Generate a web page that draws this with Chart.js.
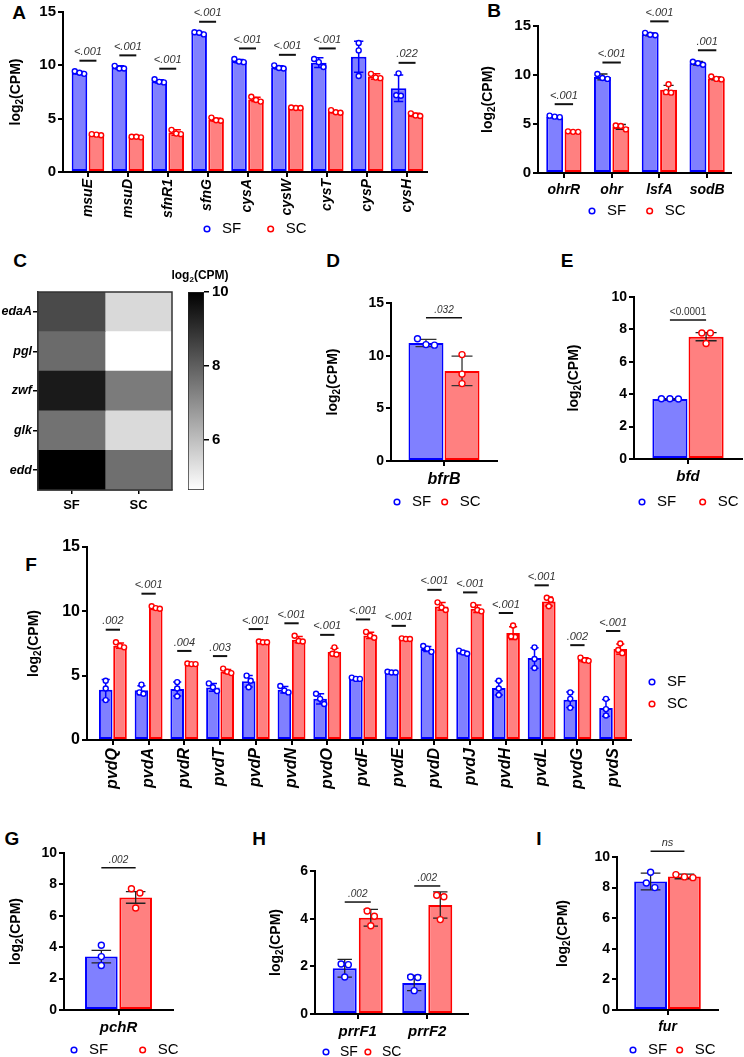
<!DOCTYPE html>
<html>
<head>
<meta charset="utf-8">
<script src="https://cdn.jsdelivr.net/npm/chart.js@4.4.1/dist/chart.umd.min.js"></script>
<style>
  html, body { margin: 0; padding: 0; background: #fff; }
  #fig { position: relative; width: 744px; height: 1057px; overflow: hidden; font-family: 'Liberation Sans', Arial, sans-serif; }
  #fig canvas { position: absolute; }
  .pl { position: absolute; font-weight: bold; font-size: 19px; transform: translate(-50%, -50%); line-height: 1; }
</style>
</head>
<body>
<div id="fig">
  <div class="pl" style="left:19px;top:12px">A</div>
  <div class="pl" style="left:494px;top:10px">B</div>
  <div class="pl" style="left:20px;top:260px">C</div>
  <div class="pl" style="left:333px;top:260px">D</div>
  <div class="pl" style="left:567px;top:260px">E</div>
  <div class="pl" style="left:31px;top:564px">F</div>
  <div class="pl" style="left:12px;top:838px">G</div>
  <div class="pl" style="left:259px;top:838px">H</div>
  <div class="pl" style="left:539px;top:838px">I</div>
</div>
<script>
// ---- A: sulfur genes ----
const aGenes = ['msuE', 'msuD', 'sfnR1', 'sfnG', 'cysA', 'cysW', 'cysT', 'cysP', 'cysH'];
const aSF = [9.3, 9.8, 8.5, 13.0, 10.4, 9.8, 10.25, 10.8, 7.85];
const aSC = [3.5, 3.3, 3.7, 4.9, 6.8, 6.0, 5.65, 8.95, 5.35];
const aSFsd = [0.12, 0.15, 0.15, 0.1, 0.15, 0.15, 0.45, 1.45, 1.25];
const aSCsd = [0.05, 0.05, 0.25, 0.15, 0.2, 0.05, 0.1, 0.25, 0.15];
const aSFpts = [[9.2, 9.45, 9.3], [9.7, 9.95, 9.7], [8.4, 8.7, 8.45], [13.1, 12.9, 13.05], [10.3, 10.6, 10.35],
  [9.7, 10.0, 9.75], [10.6, 9.85, 10.3], [12.1, 11.4, 9.0], [9.25, 7.2, 7.15]];
const aSCpts = [[3.45, 3.5, 3.55], [3.25, 3.3, 3.3], [3.55, 3.95, 3.6], [4.8, 5.1, 4.85], [6.6, 7.05, 6.75],
  [6.0, 6.05, 6.0], [5.6, 5.8, 5.55], [9.2, 8.8, 8.85], [5.5, 5.3, 5.25]];
const aP = ['<.001', '<.001', '<.001', '<.001', '<.001', '<.001', '<.001', '', '.022'];

// ---- B: oxidative stress ----
const bGenes = ['ohrR', 'ohr', 'lsfA', 'sodB'];
const bSF = [5.75, 9.8, 14.15, 11.2];
const bSC = [4.2, 4.7, 8.5, 9.65];
const bSFsd = [0.08, 0.3, 0.15, 0.2];
const bSCsd = [0.05, 0.25, 0.45, 0.15];
const bSFpts = [[5.75, 5.85, 5.7], [10.1, 9.7, 9.6], [14.3, 14.05, 14.1], [11.35, 11.05, 11.2]];
const bSCpts = [[4.2, 4.25, 4.2], [4.85, 4.45, 4.8], [9.05, 8.25, 8.2], [9.85, 9.6, 9.55]];
const bP = ['<.001', '<.001', '<.001', '.001'];

// ---- C: heat map ----
const hmGenes = ['edaA', 'pgl', 'zwf', 'glk', 'edd'];
const hmCols = ['SF', 'SC'];
const hmSF = [8.45, 7.75, 9.45, 7.6, 10.0];
const hmSC = [5.45, 4.65, 7.42, 5.43, 7.67];
const cbTicks = [6, 8, 10];

// ---- D, E ----
const dGene = ['bfrB'];
const dSF = [11.2], dSC = [8.55], dSFsd = [0.35], dSCsd = [1.4];
const dSFpts = [[11.6, 11.0, 11.05]], dSCpts = [[10.1, 8.25, 7.35]];
const dP = ['.032'];
const eGene = ['bfd'];
const eSF = [3.7], eSC = [7.55], eSFsd = [0.03], eSCsd = [0.25];
const eSFpts = [[3.72, 3.7, 3.72]], eSCpts = [[7.78, 7.78, 7.13]];
const eP = ['<0.0001'];

// ---- F: pvd genes ----
const fGenes = ['pvdQ', 'pvdA', 'pvdR', 'pvdT', 'pvdP', 'pvdN', 'pvdO', 'pvdF', 'pvdE', 'pvdD', 'pvdJ', 'pvdH', 'pvdL', 'pvdG', 'pvdS'];
const fSF = [3.9, 3.86, 3.96, 4.09, 4.56, 3.9, 3.2, 4.77, 5.25, 7.07, 6.8, 4.04, 6.37, 3.13, 2.49];
const fSC = [7.33, 10.25, 5.9, 5.33, 7.6, 7.8, 6.84, 8.13, 7.85, 10.38, 10.2, 8.31, 10.77, 6.24, 7.07];
const fSFsd = [0.8, 0.35, 0.55, 0.3, 0.45, 0.25, 0.4, 0.05, 0.05, 0.2, 0.1, 0.55, 0.8, 0.6, 0.65];
const fSCsd = [0.2, 0.1, 0.05, 0.15, 0.05, 0.25, 0.3, 0.25, 0.05, 0.3, 0.3, 0.5, 0.35, 0.15, 0.4];
const fSFpts = [[4.6, 4.0, 3.1], [4.3, 3.7, 3.6], [4.5, 4.0, 3.4], [4.4, 4.1, 3.8], [5.0, 4.6, 4.1],
  [4.2, 3.85, 3.7], [3.6, 3.2, 2.8], [4.85, 4.75, 4.75], [5.3, 5.25, 5.25], [7.3, 7.1, 6.85],
  [6.95, 6.8, 6.7], [4.6, 4.0, 3.5], [7.2, 6.3, 5.6], [3.7, 3.2, 2.5], [3.2, 2.4, 1.9]];
const fSCpts = [[7.6, 7.3, 7.2], [10.4, 10.25, 10.2], [5.95, 5.9, 5.9], [5.55, 5.3, 5.2], [7.65, 7.6, 7.6],
  [8.1, 7.7, 7.65], [7.2, 6.7, 6.65], [8.4, 8.1, 7.95], [7.9, 7.85, 7.85], [10.7, 10.3, 10.1],
  [10.5, 10.1, 10.0], [8.9, 8.0, 8.05], [11.05, 10.9, 10.4], [6.4, 6.2, 6.15], [7.5, 7.0, 6.75]];
const fP = ['.002', '<.001', '.004', '.003', '<.001', '<.001', '<.001', '<.001', '<.001', '<.001', '<.001', '<.001', '<.001', '.002', '<.001'];

// ---- G, H, I ----
const gGene = ['pchR'];
const gSF = [3.4], gSC = [7.17], gSFsd = [0.4], gSCsd = [0.37];
const gSFpts = [[4.12, 3.4, 2.83]], gSCpts = [[7.72, 7.45, 6.5]];
const gP = ['.002'];
const hGenes = ['prrF1', 'prrF2'];
const hSF = [1.92, 1.3], hSC = [4.04, 4.57], hSFsd = [0.37, 0.32], hSCsd = [0.35, 0.55];
const hSFpts = [[2.1, 2.07, 1.55], [1.55, 1.53, 0.98]], hSCpts = [[4.32, 4.1, 3.7], [4.98, 4.92, 3.96]];
const hP = ['.002', '.002'];
const iGene = ['fur'];
const iSF = [8.4], iSC = [8.73], iSFsd = [0.55], iSCsd = [0.15];
const iSFpts = [[9.0, 8.3, 8.0]], iSCpts = [[8.85, 8.7, 8.65]];
const iP = ['ns'];

const FONT = "'Liberation Sans', Arial, sans-serif";
const SF_FILL = '#8080ff', SF_LINE = '#0000ff';
const SC_FILL = '#ff8080', SC_LINE = '#ff0000';
Chart.defaults.font.family = FONT;
Chart.defaults.color = '#000';

function addCanvas(box) {
  const c = document.createElement('canvas');
  c.width = box.w; c.height = box.h;
  Object.assign(c.style, { left: box.l + 'px', top: box.t + 'px', width: box.w + 'px', height: box.h + 'px' });
  document.getElementById('fig').appendChild(c);
  return c;
}

// "log2(CPM)" with a real subscript
function drawLog(ctx, x, y, size, vertical) {
  const big = `bold ${size}px ${FONT}`;
  const small = `bold ${Math.round(size * 0.68)}px ${FONT}`;
  ctx.save();
  ctx.translate(x, y);
  if (vertical) ctx.rotate(-Math.PI / 2);
  ctx.font = big;
  const w1 = ctx.measureText('log').width, w3 = ctx.measureText('(CPM)').width;
  ctx.font = small;
  const w2 = ctx.measureText('2').width;
  let cx = -(w1 + w2 + w3) / 2;
  const base = size * 0.36;
  ctx.fillStyle = '#000'; ctx.textAlign = 'left'; ctx.textBaseline = 'alphabetic';
  ctx.font = big; ctx.fillText('log', cx, base); cx += w1;
  ctx.font = small; ctx.fillText('2', cx, base + size * 0.22); cx += w2;
  ctx.font = big; ctx.fillText('(CPM)', cx, base);
  ctx.restore();
}

// spread replicate dots sideways when they would overlap
function spread(ys, r, gap) {
  const idx = ys.map((v, i) => i).sort((a, b) => ys[a] - ys[b]);
  const off = ys.map(() => 0);
  let start = 0;
  for (let k = 1; k <= idx.length; k++) {
    if (k === idx.length || ys[idx[k]] - ys[idx[k - 1]] > 2 * r + 1) {
      const grp = idx.slice(start, k);
      grp.forEach((g, m) => { off[g] = (m - (grp.length - 1) / 2) * gap; });
      start = k;
    }
  }
  return off;
}

function legendLabels(chart) {
  return chart.data.datasets.map((ds, i) => ({
    text: ds.label, fillStyle: '#fff', strokeStyle: ds.borderColor, lineWidth: 1.5,
    pointStyle: 'circle', rotation: 0, hidden: false, datasetIndex: i,
  }));
}

function decor(p, box) {
  return {
    id: 'decor',
    afterLayout(chart) {
      const lg = chart.legend;
      const L = p.legend;
      if (!lg) return;
      const left = L.x - box.l - L.fs / 2 - L.pad;
      const top = L.y - box.t - L.fs / 2 - L.pad;
      Object.assign(lg, { left, top, right: left + 400, bottom: top + 200, width: 400, height: 200 });
    },
    afterDatasetsDraw(chart) {
      const ctx = chart.ctx;
      const ys = chart.scales.y;
      const metas = p.series.map((s, i) => chart.getDatasetMeta(i));
      const r = p.dotR;
      ctx.save();
      p.series.forEach((s, i) => {
        metas[i].data.forEach((bar, j) => {
          const top = ys.getPixelForValue(s.mean[j] + s.sd[j]);
          const bot = ys.getPixelForValue(s.mean[j] - s.sd[j]);
          const half = bar.width * 0.3;
          ctx.strokeStyle = p.errColor || s.line;
          ctx.lineWidth = p.errWidth;
          ctx.beginPath();
          ctx.moveTo(bar.x, top); ctx.lineTo(bar.x, bot);
          ctx.moveTo(bar.x - half, top); ctx.lineTo(bar.x + half, top);
          ctx.moveTo(bar.x - half, bot); ctx.lineTo(bar.x + half, bot);
          ctx.stroke();
          const py = s.pts[j].map(v => ys.getPixelForValue(v));
          const off = spread(py, r, Math.min(2 * r + 2.5, bar.width * 0.3));
          ctx.lineWidth = 1.4; ctx.strokeStyle = s.line; ctx.fillStyle = '#fff';
          py.forEach((y, k) => {
            ctx.beginPath();
            ctx.arc(bar.x + off[k], y, r, 0, Math.PI * 2);
            ctx.fill(); ctx.stroke();
          });
        });
      });
      // significance brackets
      p.sig.forEach((t, j) => {
        if (!t) return;
        let top = Infinity;
        p.series.forEach(s => {
          top = Math.min(top, ys.getPixelForValue(s.mean[j] + s.sd[j]), ...s.pts[j].map(v => ys.getPixelForValue(v) - r));
        });
        const y = top - p.sigGap;
        const x1 = metas[0].data[j].x, x2 = metas[1].data[j].x;
        ctx.strokeStyle = '#111'; ctx.lineWidth = p.sigWidth;
        ctx.beginPath(); ctx.moveTo(x1, y); ctx.lineTo(x2, y); ctx.stroke();
        ctx.fillStyle = '#333'; ctx.textAlign = 'center'; ctx.textBaseline = 'bottom';
        ctx.font = `${p.sigItalic === false ? '' : 'italic '}${p.sigFont}px ${FONT}`;
        ctx.fillText(t, (x1 + x2) / 2, y - 3);
      });
      ctx.restore();
    },
    afterDraw(chart) {
      const a = chart.chartArea;
      drawLog(chart.ctx, p.titleX - box.l, (a.top + a.bottom) / 2, p.titleSize, true);
    },
  };
}

function barPanel(p) {
  const L = p.legend;
  const legendH = L.vertical ? 0 : L.fs + L.pad + 10;
  const box = { l: p.l, t: p.t, w: p.r - p.l, h: Math.ceil(p.area.b - p.t + p.xSpace + legendH + 10) };
  const canvas = addCanvas(box);
  const n = p.labels.length;
  const gapL = p.gapL || 0, gapR = p.gapR || 0;
  const step = (p.area.r - p.area.l - gapL - gapR) / n;
  const axisLine = { display: true, color: '#000', width: 2 };
  return new Chart(canvas, {
    type: 'bar',
    data: {
      labels: p.labels,
      datasets: p.series.map(s => ({
        label: s.name, data: s.mean, backgroundColor: s.fill, borderColor: s.line,
        borderWidth: 2, borderSkipped: false, categoryPercentage: p.catPct, barPercentage: p.barPct,
      })),
    },
    options: {
      responsive: false, animation: false, events: [], devicePixelRatio: 1,
      layout: { padding: { left: 0, top: p.area.t - box.t, right: box.l + box.w - p.area.r, bottom: 0 } },
      scales: {
        x: {
          z: 1, offset: true,
          grid: { display: true, drawOnChartArea: false, drawTicks: true, tickLength: 5, offset: false, color: '#000', lineWidth: 2 },
          border: axisLine,
          ticks: {
            autoSkip: false, maxRotation: p.xRot, minRotation: p.xRot, padding: p.xPad,
            font: { size: p.xFont, weight: 'bold', style: 'italic' },
          },
          afterBuildTicks: s => {
            s._startValue -= gapL / step;
            s._valueRange += (gapL + gapR) / step;
          },
          afterFit: s => {
            const lh = (!L.vertical && s.chart.legend) ? s.chart.legend.height : 0;
            s.height = box.h - (p.area.b - box.t) - lh;
          },
        },
        y: {
          z: 1, min: 0, max: p.yMax,
          ticks: { stepSize: p.yStep, padding: 2, font: { size: p.yFont, weight: 'bold' } },
          grid: { display: true, drawOnChartArea: false, drawTicks: true, tickLength: 5, color: '#000', lineWidth: 2 },
          border: axisLine,
          afterFit: s => { s.width = p.area.l - box.l; },
        },
      },
      plugins: {
        tooltip: { enabled: false },
        legend: {
          position: L.vertical ? 'chartArea' : 'bottom',
          align: 'start',
          labels: {
            usePointStyle: true, boxWidth: L.fs, boxHeight: 4, padding: L.pad,
            color: '#000', font: { size: L.fs }, generateLabels: legendLabels,
          },
        },
      },
    },
    plugins: [decor(p, box)],
  });
}

function pair(mSF, mSC, sdSF, sdSC, ptSF, ptSC) {
  return [
    { name: 'SF', mean: mSF, sd: sdSF, pts: ptSF, fill: SF_FILL, line: SF_LINE },
    { name: 'SC', mean: mSC, sd: sdSC, pts: ptSC, fill: SC_FILL, line: SC_LINE },
  ];
}

function heatPanel() {
  const box = { l: 0, t: 250, w: 182, h: 275 };
  const area = { l: 38, t: 292, r: 172, b: 490 };
  const canvas = addCanvas(box);
  const lo = Math.min(...hmSF, ...hmSC), hi = Math.max(...hmSF, ...hmSC);
  const grey = v => { const g = Math.round(255 * (hi - v) / (hi - lo)); return `rgb(${g},${g},${g})`; };
  const cols = [hmSF, hmSC];
  new Chart(canvas, {
    type: 'bar',
    data: {
      labels: hmGenes,
      datasets: cols.map((vals, i) => ({
        label: hmCols[i], data: vals.map(() => [i, i + 1]), backgroundColor: vals.map(grey),
      })),
    },
    options: {
      indexAxis: 'y', responsive: false, animation: false, events: [], devicePixelRatio: 1,
      datasets: { bar: { barPercentage: 1, categoryPercentage: 1, grouped: false, borderWidth: 0 } },
      layout: { padding: { left: 0, top: area.t - box.t, right: box.l + box.w - area.r, bottom: 0 } },
      scales: {
        x: {
          type: 'linear', min: 0, max: hmCols.length, z: 1,
          afterBuildTicks: s => { s.ticks = hmCols.map((c, i) => ({ value: i + 0.5 })); },
          ticks: { callback: (v, i) => hmCols[i], padding: 4, font: { size: 13, weight: 'bold' } },
          grid: { drawOnChartArea: false, tickLength: 4, color: '#000', lineWidth: 1.5 },
          border: { display: true, color: '#333', width: 1.5 },
          afterFit: s => { s.height = box.t + box.h - area.b; },
        },
        y: {
          z: 1,
          grid: { offset: false, drawOnChartArea: false, tickLength: 5, color: '#000', lineWidth: 1.5 },
          ticks: { padding: 1, font: { size: 12.5, weight: 'bold', style: 'italic' } },
          border: { display: true, color: '#333', width: 1.5 },
          afterFit: s => { s.width = area.l - box.l; },
        },
      },
      plugins: { legend: { display: false }, tooltip: { enabled: false } },
    },
    plugins: [{
      id: 'frame',
      afterDraw(chart) {
        const a = chart.chartArea, c = chart.ctx;
        c.save(); c.strokeStyle = '#333'; c.lineWidth = 1.5;
        c.strokeRect(a.left, a.top, a.width, a.height); c.restore();
      },
    }],
  });

  // colour bar
  const cbox = { l: 165, t: 265, w: 80, h: 240 };
  const carea = { l: 188, t: 292, r: 204, b: 490 };
  const cb = addCanvas(cbox);
  new Chart(cb, {
    type: 'bar',
    data: {
      labels: ['scale'],
      datasets: [{
        data: [[lo, hi]],
        backgroundColor: c => {
          const a = c.chart.chartArea;
          if (!a) return '#888';
          const g = c.chart.ctx.createLinearGradient(0, a.bottom, 0, a.top);
          g.addColorStop(0, '#fff'); g.addColorStop(1, '#000');
          return g;
        },
        borderColor: '#222', borderWidth: 1, borderSkipped: false, barPercentage: 1, categoryPercentage: 1,
      }],
    },
    options: {
      responsive: false, animation: false, events: [], devicePixelRatio: 1,
      layout: { padding: { left: carea.l - cbox.l, top: carea.t - cbox.t, right: 0, bottom: cbox.t + cbox.h - carea.b } },
      scales: {
        x: { display: false },
        y: {
          position: 'right', min: lo, max: hi,
          afterBuildTicks: s => { s.ticks = cbTicks.map(v => ({ value: v })); },
          ticks: { padding: 3, font: { size: 15, weight: 'bold' } },
          grid: { drawOnChartArea: false, tickLength: 5, color: '#000', lineWidth: 1.5 },
          border: { display: false },
          afterFit: s => { s.width = cbox.l + cbox.w - carea.r; },
        },
      },
      plugins: { legend: { display: false }, tooltip: { enabled: false } },
    },
    plugins: [{ id: 'cbTitle', afterDraw(chart) { drawLog(chart.ctx, 200 - cbox.l, 275 - cbox.t, 12, false); } }],
  });
}

const common = { sigFont: 11, titleSize: 14, dotR: 2.5 };

barPanel({
  ...common, l: 0, r: 470, t: 0, area: { l: 63, t: 12, r: 427, b: 172 },
  labels: aGenes, series: pair(aSF, aSC, aSFsd, aSCsd, aSFpts, aSCpts), sig: aP,
  xSpace: 60, xFont: 14, xRot: 90, xPad: 2, yMax: 15, yStep: 5, yFont: 15,
  catPct: 0.85, barPct: 0.92, gapL: 5,
  legend: { x: 207, y: 229, fs: 15, pad: 22 }, titleX: 15,
  sigGap: 8, sigWidth: 2, errColor: null, errWidth: 1.5,
});

barPanel({
  ...common, l: 470, r: 744, t: 0, area: { l: 538, t: 26, r: 731, b: 173 },
  labels: bGenes, series: pair(bSF, bSC, bSFsd, bSCsd, bSFpts, bSCpts), sig: bP,
  xSpace: 28, xFont: 14, xRot: 0, xPad: 4, yMax: 15, yStep: 5, yFont: 15,
  catPct: 0.77, barPct: 0.92, gapL: 2,
  legend: { x: 592, y: 211, fs: 15, pad: 16 }, titleX: 487,
  sigGap: 9, sigWidth: 2, errColor: '#222', errWidth: 1.3,
});

heatPanel();

barPanel({
  ...common, dotR: 3, sigFont: 10, l: 300, r: 520, t: 280, area: { l: 391, t: 303, r: 497, b: 461 },
  labels: dGene, series: pair(dSF, dSC, dSFsd, dSCsd, dSFpts, dSCpts), sig: dP,
  xSpace: 25, xFont: 16, xRot: 0, xPad: 4, yMax: 15, yStep: 5, yFont: 14,
  catPct: 0.68, barPct: 0.97,
  legend: { x: 397, y: 502, fs: 15, pad: 6 }, titleX: 332,
  sigGap: 18, sigWidth: 1.5, errColor: '#333', errWidth: 1.3,
});

barPanel({
  ...common, dotR: 3, sigFont: 10, sigItalic: false, l: 530, r: 744, t: 280, area: { l: 634, t: 297, r: 742, b: 459 },
  labels: eGene, series: pair(eSF, eSC, eSFsd, eSCsd, eSFpts, eSCpts), sig: eP,
  xSpace: 25, xFont: 15, xRot: 0, xPad: 4, yMax: 10, yStep: 2, yFont: 14,
  catPct: 0.67, barPct: 0.97,
  legend: { x: 642, y: 502, fs: 15, pad: 19 }, titleX: 573,
  sigGap: 10, sigWidth: 1.5, errColor: '#222', errWidth: 1.3,
});

barPanel({
  ...common, l: 0, r: 744, t: 520, area: { l: 87, t: 547, r: 631, b: 740 },
  labels: fGenes, series: pair(fSF, fSC, fSFsd, fSCsd, fSFpts, fSCpts), sig: fP,
  xSpace: 60, xFont: 16, xRot: 90, xPad: 3, yMax: 15, yStep: 5, yFont: 16,
  catPct: 0.8, barPct: 0.95, gapL: 8,
  legend: { x: 652, y: 682, fs: 15, pad: 7, vertical: true }, titleX: 33,
  sigGap: 10, sigWidth: 2, errColor: null, errWidth: 1.5,
});

barPanel({
  ...common, dotR: 3, sigFont: 10, l: 0, r: 235, t: 835, area: { l: 64, t: 853, r: 173, b: 1010 },
  labels: gGene, series: pair(gSF, gSC, gSFsd, gSCsd, gSFpts, gSCpts), sig: gP,
  xSpace: 30, xFont: 15, xRot: 0, xPad: 4, yMax: 10, yStep: 2, yFont: 14,
  catPct: 0.63, barPct: 0.95,
  legend: { x: 74, y: 1050, fs: 15, pad: 27 }, titleX: 15,
  sigGap: 18, sigWidth: 1.5, errColor: '#222', errWidth: 1.3,
});

barPanel({
  ...common, dotR: 3, sigFont: 10, l: 240, r: 490, t: 835, area: { l: 315, t: 871, r: 468, b: 1014 },
  labels: hGenes, series: pair(hSF, hSC, hSFsd, hSCsd, hSFpts, hSCpts), sig: hP,
  xSpace: 30, xFont: 15, xRot: 0, xPad: 4, yMax: 6, yStep: 2, yFont: 14,
  catPct: 0.75, barPct: 0.92, gapL: 8, gapR: 6,
  legend: { x: 326, y: 1052, fs: 14, pad: 3 }, titleX: 275,
  sigGap: 6, sigWidth: 1.5, errColor: '#222', errWidth: 1.3,
});

barPanel({
  ...common, dotR: 3, l: 540, r: 744, t: 835, area: { l: 617, t: 857, r: 718, b: 1010 },
  labels: iGene, series: pair(iSF, iSC, iSFsd, iSCsd, iSFpts, iSCpts), sig: iP,
  xSpace: 30, xFont: 14, xRot: 0, xPad: 4, yMax: 10, yStep: 2, yFont: 14,
  catPct: 0.67, barPct: 0.97,
  legend: { x: 633, y: 1050, fs: 15, pad: 5 }, titleX: 562,
  sigGap: 18, sigWidth: 1.5, errColor: '#222', errWidth: 1.3,
});
</script>
</body>
</html>
